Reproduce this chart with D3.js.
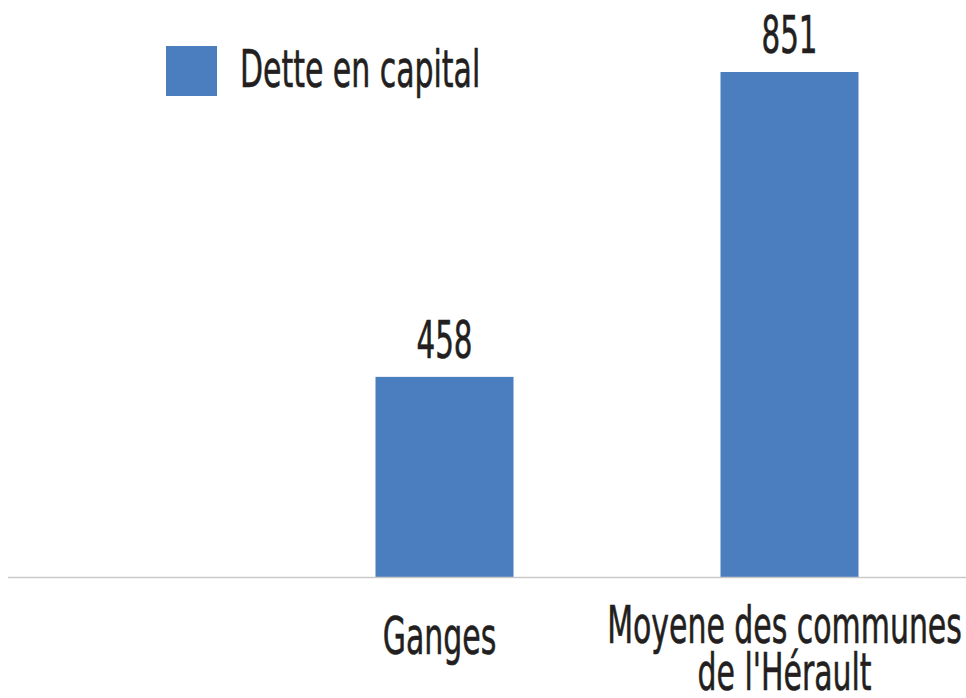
<!DOCTYPE html>
<html>
<head>
<meta charset="utf-8">
<script src="https://cdn.jsdelivr.net/npm/d3@7"></script>
<style>
  body { margin: 0; background: #fff; }
  text { font-family: "DejaVu Sans Condensed", "Liberation Sans Narrow", sans-serif; fill: #231f20; stroke: #231f20; stroke-width: 0.6px; }
</style>
</head>
<body>
<div id="chart"></div>
<script>
const categories = ["Ganges", "Moyene des communes\nde l'Hérault"];
const values = [458, 851];
const seriesName = "Dette en capital";

const width = 966, height = 698;
const margin = { top: 72, right: 4, bottom: 121, left: 8 };
const squeeze = 0.64; // narrow type like the original

const svg = d3.select("#chart")
  .append("svg")
  .attr("width", width)
  .attr("height", height)
  .attr("viewBox", [0, 0, width, height]);

let x = d3.scaleBand()
  .domain(categories)
  .range([272, 962])
  .paddingInner(0.6)
  .paddingOuter(0.3);

let y = d3.scaleLinear()
  .domain([200, d3.max(values)])
  .range([height - margin.bottom, margin.top]);

// condensed text helper, one <text> with a tspan per line
function label(g, txt, tx, ty, size, anchor, lineGap) {
  let t = g.append("g")
    .attr("transform", `translate(${tx},${ty}) scale(${squeeze},1)`)
    .append("text")
    .attr("text-anchor", anchor || "middle")
    .attr("font-size", size);
  String(txt).split("\n").forEach((ln, j) => {
    t.append("tspan")
      .attr("x", 0)
      .attr("y", j * (lineGap || 0))
      .text(ln);
  });
  return t;
}

svg.append("g")
  .selectAll("rect")
  .data(values)
  .join("rect")
  .attr("x", (d, i) => x(categories[i]))
  .attr("y", d => y(d))
  .attr("width", x.bandwidth())
  .attr("height", d => y(200) - y(d))
  .attr("fill", "#4a7ebf");

// baseline
svg.append("line")
  .attr("x1", margin.left)
  .attr("x2", width)
  .attr("y1", y(200) + 0.5)
  .attr("y2", y(200) + 0.5)
  .attr("stroke", "#c9c9c9")
  .attr("stroke-width", 1.5);

// value labels
values.forEach((v, i) => {
  label(svg, v, x(categories[i]) + x.bandwidth() / 2, y(v) - 19, 51);
});

// category labels
categories.forEach(c => {
  let top = c.includes("\n") ? 643 : 654;
  label(svg, c, x(c) + x.bandwidth() / 2 - 5, top, 52, "middle", 47);
});

// legend
svg.append("rect")
  .attr("x", 166)
  .attr("y", 46)
  .attr("width", 51)
  .attr("height", 50)
  .attr("fill", "#4a7ebf");

label(svg, seriesName, 240, 87, 52, "start");
</script>
</body>
</html>
